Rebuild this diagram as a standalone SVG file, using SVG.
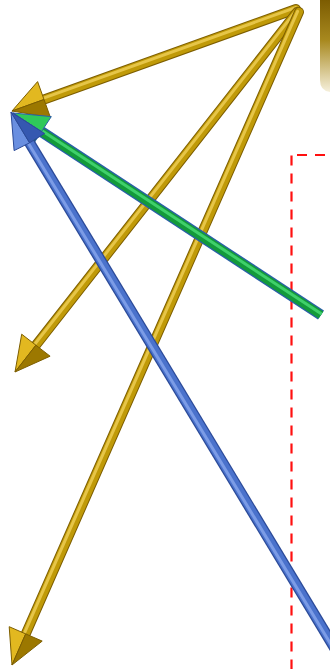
<svg xmlns="http://www.w3.org/2000/svg" width="330" height="669" viewBox="0 0 330 669">
  <defs>
    <linearGradient id="boxGrad" x1="0" y1="0" x2="0" y2="1">
      <stop offset="0" stop-color="#7a5a00"/>
      <stop offset="0.45" stop-color="#a8891f"/>
      <stop offset="1" stop-color="#f6f0dc"/>
    </linearGradient>
  </defs>
  <style>
    .frame { fill: none; stroke: #ff1010; stroke-width: 2.2; stroke-dasharray: 10 8; }
    .gold-o { fill: none; stroke: #7d5e00; stroke-width: 10; stroke-linecap: round; }
    .gold-m { fill: none; stroke: #c09a08; stroke-width: 8; stroke-linecap: round; }
    .gold-h { fill: none; stroke: #e6c548; stroke-width: 3; stroke-linecap: round; }
    .green-o { fill: none; stroke: #2a5fa8; stroke-width: 11; stroke-linecap: butt; }
    .green-m { fill: none; stroke: #139a3a; stroke-width: 8.5; stroke-linecap: butt; }
    .green-h { fill: none; stroke: #3fd06a; stroke-width: 3; stroke-linecap: butt; }
    .blue-o { fill: none; stroke: #2b4a98; stroke-width: 11; stroke-linecap: butt; }
    .blue-m { fill: none; stroke: #4a72cc; stroke-width: 8.5; stroke-linecap: butt; }
    .blue-h { fill: none; stroke: #7c9ce6; stroke-width: 3; stroke-linecap: butt; }
    .gh-l { fill: #e2b820; stroke: #7d5e00; stroke-width: 1; stroke-linejoin: round; }
    .gh-d { fill: #9c7800; stroke: #7d5e00; stroke-width: 1; stroke-linejoin: round; }
    .grh-l { fill: #2fc85a; stroke: #2a5fa8; stroke-width: 1; }
    .grh-d { fill: #0e7a2a; stroke: #2a5fa8; stroke-width: 1; }
    .bh-l { fill: #6a8fe0; stroke: #2b4a98; stroke-width: 1; stroke-linejoin: round; }
    .bh-d { fill: #3558b0; stroke: #2b4a98; stroke-width: 1; stroke-linejoin: round; }
  </style>

  <g id="header-box">
    <path d="M320 -2 H340 V92 H332 Q320 92 320 80 Z" fill="url(#boxGrad)"/>
  </g>

  <g id="dashed-frame">
    <line class="frame" x1="297" y1="155" x2="335" y2="155"/>
    <line class="frame" x1="291.5" y1="155.5" x2="291.5" y2="675"/>
  </g>

  <g id="connectors">
    <g id="gold-1">
      <line class="gold-o" x1="296" y1="9" x2="44" y2="99.5"/>
      <line class="gold-m" x1="296" y1="9" x2="44" y2="99.5"/>
      <line class="gold-h" x1="295.5" y1="7.6" x2="43.5" y2="98.1"/>
      <polygon class="gh-l" points="12,111 37.6,81.6 44,99.5"/>
      <polygon class="gh-d" points="12,111 50.4,117.4 44,99.5"/>
    </g>
    <g id="gold-2">
      <line class="gold-o" x1="297" y1="12" x2="35.9" y2="345.2"/>
      <line class="gold-m" x1="297" y1="12" x2="35.9" y2="345.2"/>
      <line class="gold-h" x1="295.8" y1="11.1" x2="34.7" y2="344.3"/>
      <polygon class="gh-l" points="15,372 21.7,334.2 35.9,345.2"/>
      <polygon class="gh-d" points="15,372 50.1,356.2 35.9,345.2"/>
    </g>
    <g id="gold-3">
      <line class="gold-o" x1="299" y1="12" x2="25.7" y2="633.9"/>
      <line class="gold-m" x1="299" y1="12" x2="25.7" y2="633.9"/>
      <line class="gold-h" x1="297.6" y1="11.4" x2="24.3" y2="633.3"/>
      <polygon class="gh-l" points="12,665 9.2,626.7 25.7,633.9"/>
      <polygon class="gh-d" points="12,665 42.2,641.1 25.7,633.9"/>
    </g>
    <g id="green">
      <line class="green-o" x1="321" y1="315" x2="41.4" y2="131.7"/>
      <line class="green-m" x1="321" y1="315" x2="41.4" y2="131.7"/>
      <line class="green-h" x1="321.6" y1="314" x2="42" y2="130.7"/>
      <polygon class="grh-l" points="13,113 51.3,116.6 41.4,131.7"/>
      <polygon class="grh-d" points="13,113 31.5,146.8 41.4,131.7"/>
    </g>
    <g id="blue">
      <line class="blue-o" x1="366" y1="700" x2="28.6" y2="141.1"/>
      <line class="blue-m" x1="366" y1="700" x2="28.6" y2="141.1"/>
      <line class="blue-h" x1="364.9" y1="700.7" x2="27.5" y2="141.8"/>
      <polygon class="bh-l" points="11,112 14.1,150.6 29.6,142.8"/>
      <polygon class="bh-d" points="11,112 44.6,133.5 29.6,142.8"/>
    </g>
  </g>
</svg>
